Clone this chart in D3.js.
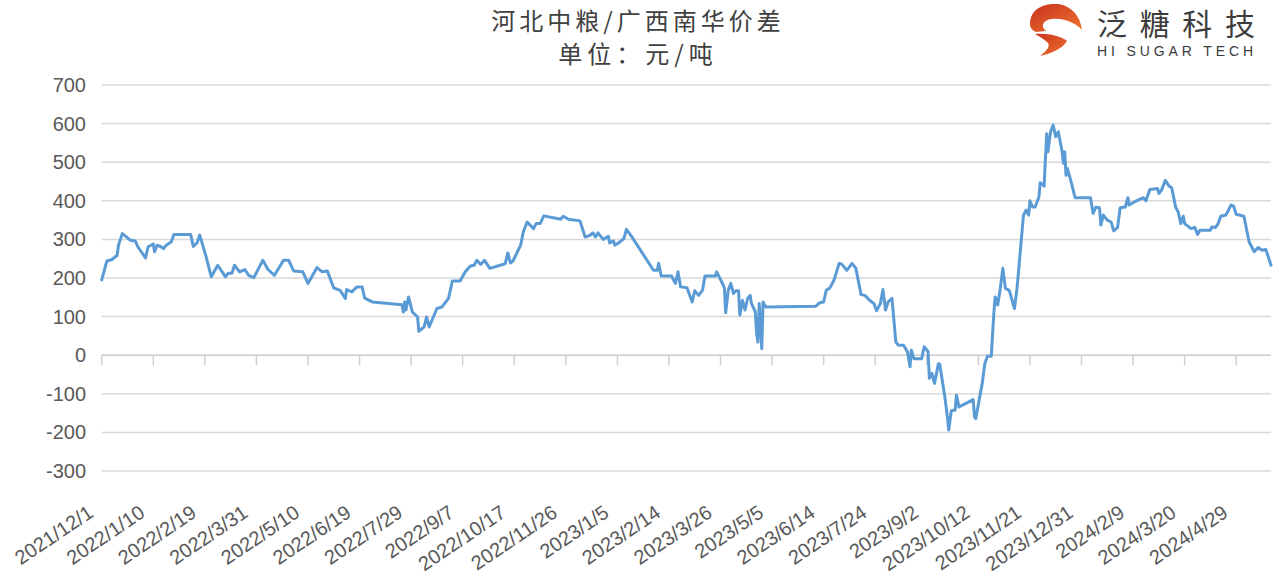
<!DOCTYPE html>
<html>
<head>
<meta charset="utf-8">
<script src="https://cdn.jsdelivr.net/npm/d3@7"></script>
<style>
  body { margin: 0; background: #fff; }
  svg { display: block; }
</style>
</head>
<body>
<div id="vis"></div>
<script>
// days since 2021/12/1
const dayOffset = [
  0, 4, 8, 12, 13, 16, 19, 22, 26, 28, 34, 36, 40, 41, 43, 46, 48, 50, 54, 56,
  69, 71, 74, 76, 78, 81, 85, 90, 96, 98, 101, 103, 107, 111, 114, 118, 125, 129, 134, 138,
  141, 145, 149, 156, 160, 167, 171, 175, 180, 185, 189, 190, 194, 198, 202, 204, 210, 233, 234, 235,
  236, 238, 241, 245, 246, 250, 252, 254, 260, 264, 269, 272, 278, 282, 286, 289, 291, 294, 297, 301,
  313, 315, 317, 319, 325, 327, 330, 335, 337, 340, 343, 356, 358, 362, 371, 375, 379, 381, 383, 385,
  389, 393, 394, 397, 398, 401, 405, 407, 411, 428, 431, 432, 434, 442, 445, 447, 449, 454, 458, 460,
  463, 466, 468, 476, 477, 480, 483, 484, 486, 488, 490, 492, 494, 495, 497, 499, 501, 503, 504, 507,
  508, 509, 510, 512, 513, 515, 554, 557, 560, 562, 565, 568, 572, 574, 578, 582, 585, 589, 592, 596,
  599, 601, 604, 606, 608, 610, 613, 616, 618, 622, 625, 627, 628, 630, 636, 638, 641, 642, 644, 646,
  649, 650, 654, 656, 657, 659, 662, 663, 665, 676, 677, 678, 683, 685, 687, 690, 692, 693, 695, 697,
  699, 701, 704, 708, 710, 715, 717, 719, 720, 722, 724, 727, 728, 731, 733, 734, 736, 738, 740, 742,
  745, 746, 747, 748, 749, 752, 755, 767, 769, 771, 774, 775, 777, 780, 783, 785, 788, 790, 794, 796,
  797, 801, 808, 810, 813, 819, 820, 822, 825, 828, 830, 833, 835, 837, 839, 840, 845, 848, 850, 852,
  860, 861, 864, 866, 868, 872, 876, 878, 880, 886, 890, 894, 897, 900, 903, 907
];

// 价差 (元/吨)
const spread = [
  195, 244, 248, 259, 285, 315, 307, 298, 296, 281, 252, 281, 288, 268, 285, 281, 276, 285, 294, 313,
  313, 282, 291, 311, 289, 255, 203, 233, 203, 212, 212, 233, 216, 222, 207, 201, 246, 222, 207, 229,
  246, 246, 218, 216, 186, 227, 216, 218, 174, 168, 147, 170, 164, 177, 177, 148, 138, 131, 112, 138,
  117, 151, 112, 99, 62, 73, 99, 73, 121, 125, 147, 192, 192, 216, 231, 233, 246, 235, 246, 225,
  237, 265, 239, 244, 285, 319, 345, 328, 341, 341, 361, 352, 360, 352, 348, 306, 311, 317, 306, 317,
  300, 308, 291, 296, 285, 291, 302, 326, 308, 220, 220, 238, 205, 205, 186, 216, 177, 175, 138, 167,
  155, 168, 205, 205, 216, 196, 175, 110, 168, 186, 160, 167, 167, 104, 142, 117, 147, 155, 134, 112,
  56, 34, 134, 17, 138, 125, 127, 136, 138, 168, 175, 194, 238, 236, 220, 238, 225, 157, 155, 141,
  134, 115, 134, 170, 117, 138, 147, 34, 26, 26, 9, -30, 13, -9, -9, 22, 9, -60, -47, -73,
  -22, -23, -108, -160, -194, -144, -142, -104, -134, -115, -160, -164, -73, -22, -3, -3, 108, 151, 130, 173,
  225, 173, 168, 121, 173, 363, 376, 363, 400, 384, 384, 410, 447, 438, 574, 527, 579, 596, 566, 579,
  527, 497, 527, 466, 484, 449, 408, 408, 367, 383, 382, 337, 363, 350, 345, 322, 331, 382, 384, 408,
  389, 397, 408, 400, 429, 432, 419, 427, 453, 438, 434, 384, 371, 341, 360, 341, 328, 331, 313, 324,
  324, 332, 331, 341, 360, 363, 389, 386, 365, 360, 294, 268, 279, 272, 274, 233
];

const tickLabels = [
  "2021/12/1", "2022/1/10", "2022/2/19", "2022/3/31", "2022/5/10", "2022/6/19",
  "2022/7/29", "2022/9/7", "2022/10/17", "2022/11/26", "2023/1/5", "2023/2/14",
  "2023/3/26", "2023/5/5", "2023/6/14", "2023/7/24", "2023/9/2", "2023/10/12",
  "2023/11/21", "2023/12/31", "2024/2/9", "2024/3/20", "2024/4/29"
];

const yTicks = [-300, -200, -100, 0, 100, 200, 300, 400, 500, 600, 700];

const titleText = "河北中粮/广西南华价差";
const unitText = "单位：元/吨";
const logoCn = "泛糖科技";
const logoEn = "HI SUGAR TECH";

const width = 1280;
const height = 585;
const margin = { top: 85, right: 9, bottom: 114, left: 101.7 };

const parseDate = d3.timeParse("%Y/%m/%d");
const start = parseDate(tickLabels[0]);

const data = dayOffset.map((d, i) => ({ date: d3.timeDay.offset(start, d), value: spread[i] }));

const svg = d3.select("#vis")
  .append("svg")
  .attr("width", width)
  .attr("height", height);

const x = d3.scaleTime()
  .domain([start, d3.max(data, d => d.date)])
  .range([margin.left, width - margin.right]);

const y = d3.scaleLinear()
  .domain([-300, 700])
  .range([height - margin.bottom, margin.top]);

// gridlines
svg.append("g")
  .selectAll("line")
  .data(yTicks)
  .enter()
  .append("line")
    .attr("x1", margin.left)
    .attr("x2", width - margin.right)
    .attr("y1", d => y(d))
    .attr("y2", d => y(d))
    .attr("stroke", "#d9d9d9")
    .attr("stroke-width", 1.5);

// y labels
svg.append("g")
  .selectAll("text")
  .data(yTicks)
  .enter()
  .append("text")
    .attr("x", 86)
    .attr("y", d => y(d))
    .attr("dy", "0.35em")
    .attr("text-anchor", "end")
    .style("font-family", "'Liberation Sans', Arial, sans-serif")
    .style("font-size", "20px")
    .attr("fill", "#595959")
    .text(d => d);

// x axis at zero
const y0 = y(0);
svg.append("line")
  .attr("x1", margin.left)
  .attr("x2", width - margin.right)
  .attr("y1", y0)
  .attr("y2", y0)
  .attr("stroke", "#d0d0d0")
  .attr("stroke-width", 1.5);

const tickDates = tickLabels.map(parseDate);

svg.append("g")
  .selectAll("line")
  .data(tickDates)
  .enter()
  .append("line")
    .attr("x1", d => x(d))
    .attr("x2", d => x(d))
    .attr("y1", y0)
    .attr("y2", y0 + 10)
    .attr("stroke", "#d0d0d0")
    .attr("stroke-width", 1.5);

svg.append("g")
  .selectAll("text")
  .data(tickLabels)
  .enter()
  .append("text")
    .attr("transform", d => "translate(" + (x(parseDate(d)) - 11) + "," + 510 + ") rotate(-34)")
    .attr("dy", "0.35em")
    .attr("text-anchor", "end")
    .style("font-family", "'Liberation Sans', Arial, sans-serif")
    .style("font-size", "20px")
    .attr("fill", "#595959")
    .text(d => d);

// the series
const line = d3.line()
  .x(d => x(d.date))
  .y(d => y(d.value));

svg.append("path")
  .datum(data)
  .attr("d", line)
  .attr("fill", "none")
  .attr("stroke", "#5b9bd5")
  .attr("stroke-width", 3)
  .attr("stroke-linejoin", "round")
  .attr("stroke-linecap", "round");

// title
svg.append("text")
  .attr("x", 638)
  .attr("y", 30)
  .attr("text-anchor", "middle")
  .style("font-family", "'Noto Sans CJK SC', sans-serif")
  .style("font-size", "24px")
  .style("letter-spacing", "4px")
  .attr("fill", "#404040")
  .text(titleText);

svg.append("text")
  .attr("x", 638)
  .attr("y", 63)
  .attr("text-anchor", "middle")
  .style("font-family", "'Noto Sans CJK SC', sans-serif")
  .style("font-size", "24px")
  .style("letter-spacing", "5px")
  .attr("fill", "#404040")
  .text(unitText);

// logo
const defs = svg.append("defs");
const grad = defs.append("linearGradient")
  .attr("id", "logoGrad")
  .attr("x1", "0%").attr("y1", "0%")
  .attr("x2", "100%").attr("y2", "100%");
grad.append("stop").attr("offset", "0%").attr("stop-color", "#c8321e");
grad.append("stop").attr("offset", "100%").attr("stop-color", "#f0742e");

const logo = svg.append("g").attr("fill", "url(#logoGrad)");
logo.append("path")
  .attr("d", "M1030,24 C1030,8 1045,3 1058,4 C1072,6 1080,16 1082,30 C1074,22 1064,18 1052,19 C1043,20 1040,26 1046,31 L1036,32 C1032,30 1030,28 1030,24 Z");
logo.append("path")
  .attr("d", "M1035,34 C1050,33 1062,37 1067,41 C1063,48 1053,53 1040,56 C1048,50 1051,45 1047,42 C1044,39 1040,37 1035,34 Z");

svg.append("text")
  .attr("x", 1097)
  .attr("y", 35)
  .attr("textLength", 158)
  .style("font-family", "'Noto Sans CJK SC', sans-serif")
  .style("font-size", "30px")
  .attr("fill", "#3c3c3c")
  .text(logoCn);

svg.append("text")
  .attr("x", 1097)
  .attr("y", 56)
  .attr("textLength", 156)
  .style("font-family", "'Liberation Sans', Arial, sans-serif")
  .style("font-size", "14px")
  .attr("fill", "#3c3c3c")
  .text(logoEn);
</script>
</body>
</html>
